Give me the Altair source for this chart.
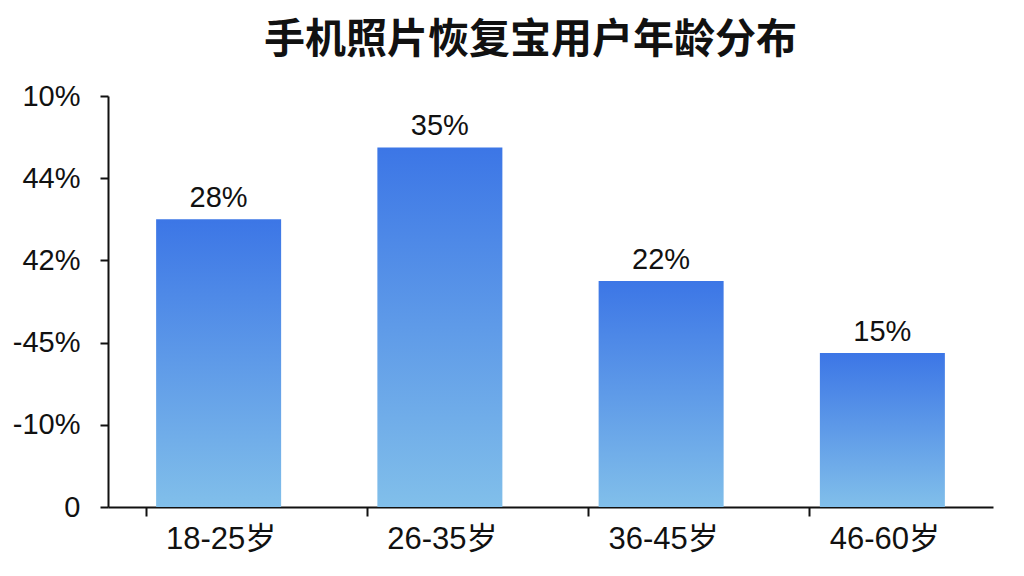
import altair as alt
import pandas as pd

# Data
age_groups = ["18-25岁", "26-35岁", "36-45岁", "46-60岁"]
shares = [28, 35, 22, 15]
bar_labels = ["28%", "35%", "22%", "15%"]
y_tick_values = [0, 8, 16, 24, 32, 40]
y_tick_labels = ["0", "-10%", "-45%", "42%", "44%", "10%"]

df = pd.DataFrame({"age": age_groups, "share": shares, "label": bar_labels})

FONT = "Liberation Sans, 'Noto Sans CJK SC', sans-serif"

label_expr = "{" + ", ".join(f"'{v}': '{t}'" for v, t in zip(y_tick_values, y_tick_labels)) + "}[datum.value]"

gradient = alt.Gradient(
    gradient="linear",
    stops=[
        alt.GradientStop(color="#3c76e6", offset=0),
        alt.GradientStop(color="#81bfea", offset=1),
    ],
    x1=0, x2=0, y1=0, y2=1,
)

x_enc = alt.X(
    "age:N",
    sort=age_groups,
    scale=alt.Scale(paddingInner=0.435, paddingOuter=0.2175),
    axis=alt.Axis(
        title=None,
        labelAngle=0,
        labelFont=FONT,
        labelFontSize=31,
        labelColor="#111111",
        labelPadding=8,
        domainColor="#111111",
        domainWidth=2,
        tickColor="#111111",
        tickWidth=2,
        tickSize=9,
        tickOffset=-73,
        labelOffset=75,
    ),
)

y_enc = alt.Y(
    "share:Q",
    scale=alt.Scale(domain=[0, 40], nice=False),
    axis=alt.Axis(
        title=None,
        values=y_tick_values,
        labelExpr=label_expr,
        labelFont=FONT,
        labelFontSize=29,
        labelColor="#111111",
        labelPadding=20,
        grid=False,
        domainColor="#111111",
        domainWidth=2,
        tickColor="#111111",
        tickWidth=2,
        tickSize=8,
    ),
)

bars = alt.Chart(df).mark_bar(color=gradient).encode(x=x_enc, y=y_enc)

texts = alt.Chart(df).mark_text(
    font=FONT, fontSize=29, color="#111111", baseline="alphabetic", dy=-12
).encode(x=alt.X("age:N", sort=age_groups), y="share:Q", text="label:N")

chart = (
    alt.layer(bars, texts)
    .properties(
        width=885,
        height=411,
        title=alt.TitleParams(
            "手机照片恢复宝用户年龄分布",
            font="'Noto Sans CJK SC', sans-serif",
            fontSize=41,
            fontWeight="bold",
            color="#111111",
            anchor="middle",
            offset=20,
            dx=-20,
        ),
        autosize=alt.AutoSizeParams(type="none"),
        padding={"left": 100, "top": 88, "right": 23, "bottom": 61},
        background="white",
    )
    .configure_view(stroke=None)
)

chart.save("out.html", embed_options={"renderer": "svg", "actions": False})
